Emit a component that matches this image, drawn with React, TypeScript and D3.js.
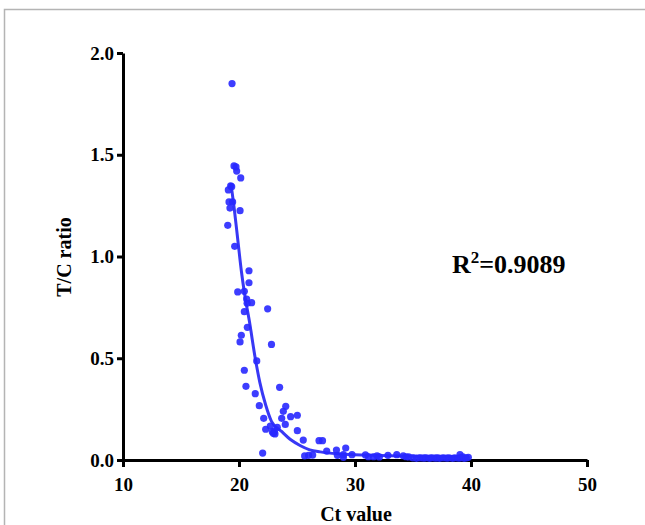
import * as d3 from 'd3';
import React, { useEffect, useRef } from 'react';

// scatter values
const ctValues = [
  19.4, 19.57, 19.74, 19.8, 20.15, 19.28, 19.37, 19.08, 19.14, 19.45, 19.22, 20.09, 19.03, 19.63,
  20.86, 20.86, 19.89, 20.46, 20.66, 21.09, 20.7, 22.47, 20.46, 20.72, 20.2, 20.09, 22.8, 21.53,
  20.46, 20.6, 23.5, 21.4, 21.75, 24.03, 23.82, 24.45, 25.03, 22.13, 23.68, 23.99, 22.7, 22.3,
  23.3, 25.03, 22.96, 23.1, 22.87, 23.05, 25.54, 22.04, 25.66, 26.0, 26.35, 26.9, 27.2, 27.56,
  28.4, 28.48, 29.0, 29.2, 29.0, 29.74, 30.9, 31.15, 31.6, 31.9, 32.1, 32.84, 33.6, 34.16, 34.4,
  34.63, 35.0, 35.3, 35.6, 35.9, 36.1, 36.4, 36.6, 36.9, 37.1, 37.3, 37.6, 37.9, 38.1, 38.4, 38.6,
  38.9, 39.05, 39.1, 39.3, 39.4, 39.6, 39.77,
];
const tcRatios = [
  1.85, 1.445, 1.44, 1.42, 1.386, 1.347, 1.343, 1.327, 1.268, 1.268, 1.238, 1.225, 1.153, 1.05,
  0.93, 0.871, 0.826, 0.829, 0.791, 0.773, 0.77, 0.743, 0.729, 0.652, 0.613, 0.58, 0.568, 0.487,
  0.441, 0.362, 0.357, 0.326, 0.267, 0.264, 0.239, 0.213, 0.22, 0.205, 0.205, 0.175, 0.167, 0.151,
  0.161, 0.144, 0.131, 0.128, 0.139, 0.14, 0.098, 0.034, 0.02, 0.023, 0.024, 0.095, 0.095, 0.044,
  0.049, 0.023, 0.026, 0.059, 0.013, 0.026, 0.025, 0.016, 0.016, 0.021, 0.015, 0.023, 0.026, 0.021,
  0.016, 0.015, 0.01, 0.008, 0.01, 0.009, 0.01, 0.008, 0.01, 0.009, 0.01, 0.008, 0.01, 0.009, 0.01,
  0.008, 0.01, 0.009, 0.026, 0.01, 0.016, 0.008, 0.01, 0.013,
];

// fitted curve
const fitCt = [19.3, 19.6, 19.9, 20.2, 20.5, 20.9, 21.4, 21.8, 22.3, 22.8, 23.7, 24.5, 25.3, 26.1, 27.0, 28.7, 31.0, 34.0, 37.0, 39.8];
const fitRatio = [1.36, 1.23, 1.08, 0.93, 0.81, 0.68, 0.5, 0.38, 0.27, 0.19, 0.139, 0.098, 0.07, 0.05, 0.04, 0.03, 0.024, 0.02, 0.018, 0.017];

const xTicks = [10, 20, 30, 40, 50];
const yTicks = [0, 0.5, 1.0, 1.5, 2.0];
const r2Label = '0.9089';

const App = () => {
  const ref = useRef<SVGSVGElement>(null);

  useEffect(() => {
    const margin = { top: 53, left: 123 };
    const width = 464;
    const height = 407;
    const font = '"Liberation Serif", "Times New Roman", serif';

    const root = d3.select(ref.current);
    root.selectAll('*').remove();

    // outer frame (top and left edges only)
    root.append('path')
      .attr('d', 'M4.5,525 L4.5,9.5 L645,9.5')
      .attr('fill', 'none')
      .attr('stroke', '#b4b4b4')
      .attr('stroke-width', 1.5);

    const svg = root.append('g').attr('transform', `translate(${margin.left}, ${margin.top})`);

    const x = d3.scaleLinear().domain([10, 50]).range([0, width]);
    const y = d3.scaleLinear().domain([0, 2]).range([height, 0]);

    const xAxis = svg.append('g')
      .attr('transform', `translate(0, ${height})`)
      .call(d3.axisBottom(x).tickValues(xTicks).tickSize(7).tickSizeOuter(0).tickPadding(11));
    const yAxis = svg.append('g')
      .call(d3.axisLeft(y).tickValues(yTicks).tickSize(6).tickSizeOuter(0).tickPadding(3).tickFormat(d3.format('.1f')));

    [xAxis, yAxis].forEach((a) => {
      a.attr('font-family', font).attr('font-size', 19).attr('font-weight', 'bold');
      a.select('.domain').attr('stroke', '#000').attr('stroke-width', 3);
      a.selectAll('.tick line').attr('stroke', '#000').attr('stroke-width', 3);
      a.selectAll('.tick text')
        .attr('fill', '#000')
        .style('font-family', font)
        .style('font-weight', 'bold')
        .style('font-size', '19px');
    });

    // fitted line
    const line = d3.line<number>()
      .x((d, i) => x(fitCt[i]))
      .y((d) => y(d))
      .curve(d3.curveMonotoneX);
    svg.append('path')
      .datum(fitRatio)
      .attr('fill', 'none')
      .attr('stroke', '#3838f5')
      .attr('stroke-width', 3)
      .attr('d', line);

    // scatter points
    svg.append('g')
      .selectAll('circle')
      .data(ctValues)
      .join('circle')
      .attr('cx', (d) => x(d))
      .attr('cy', (d, i) => y(tcRatios[i]))
      .attr('r', 3.6)
      .attr('fill', '#2828ff')
      .attr('fill-opacity', 0.9);

    // axis titles
    root.append('text')
      .attr('x', 356)
      .attr('y', 521)
      .attr('text-anchor', 'middle')
      .style('font-family', font)
      .style('font-weight', 'bold')
      .style('font-size', '20px')
      .text('Ct value');
    root.append('text')
      .attr('transform', 'translate(71, 257) rotate(-90)')
      .attr('text-anchor', 'middle')
      .style('font-family', font)
      .style('font-weight', 'bold')
      .style('font-size', '20px')
      .text('T/C ratio');

    // R squared annotation
    const r2 = root.append('text')
      .attr('x', 452)
      .attr('y', 273)
      .style('font-family', font)
      .style('font-weight', 'bold')
      .style('font-size', '26px');
    r2.append('tspan').text('R');
    r2.append('tspan').attr('dy', -10).style('font-size', '17px').text('2');
    r2.append('tspan').attr('dy', 10).text(`=${r2Label}`);
  }, []);

  return (
    <div style={{ position: 'absolute', left: 0, top: 0 }}>
      <svg ref={ref} width={645} height={525} style={{ display: 'block', background: '#fff' }}></svg>
    </div>
  );
};

export default App;
